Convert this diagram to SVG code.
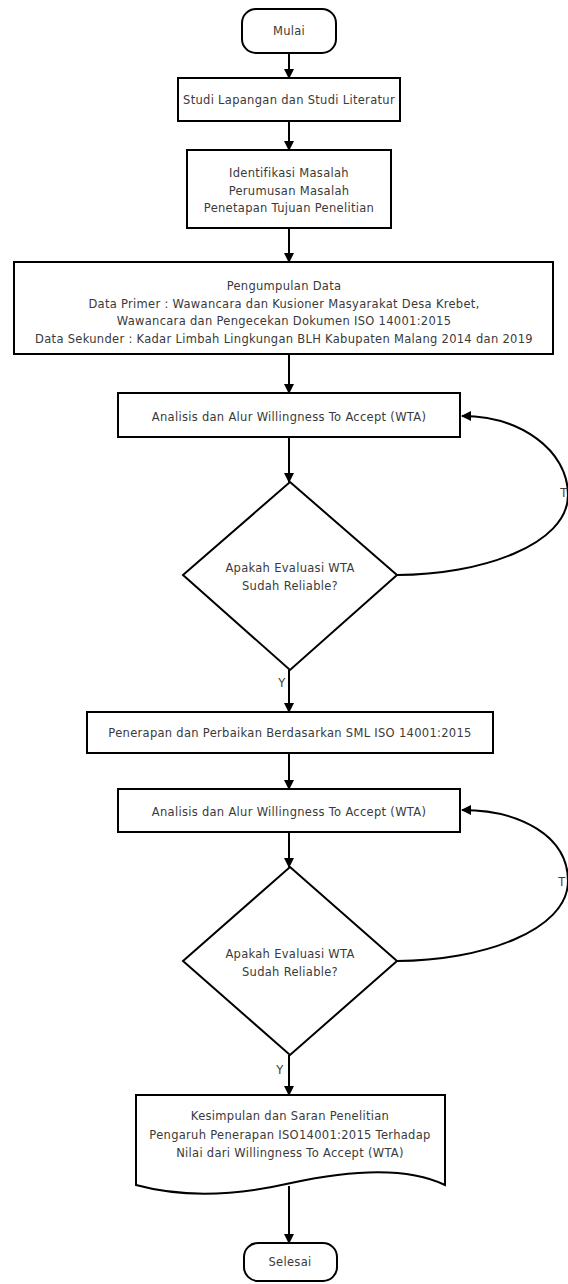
<svg xmlns="http://www.w3.org/2000/svg" width="568" height="1284" viewBox="0 0 568 1284">
<defs>
<marker id="ah" markerWidth="10" markerHeight="10" refX="9" refY="5" orient="auto" markerUnits="userSpaceOnUse">
<path d="M0,0 L10,5 L0,10 Z" fill="#000"/>
</marker>
<style>
.n{fill:#fff;stroke:#000;stroke-width:2}
.t{font-family:"DejaVu Sans",Verdana,sans-serif;font-size:11.5px;letter-spacing:0.3px;fill:#3a3a3a;text-anchor:middle}
.c{fill:none;stroke:#000;stroke-width:2;marker-end:url(#ah)}
</style>
</defs>
<rect width="568" height="1284" fill="#fff"/>
<g id="connectors">
<path class="c" d="M289,53 V78"/>
<path class="c" d="M289,121 V150"/>
<path class="c" d="M289,228 V262"/>
<path class="c" d="M289,354 V393"/>
<path class="c" d="M289,437 V482"/>
<path class="c" d="M397,575 C 480,575 568,545 568,495 C 568,450 520,416 462,416"/>
<path class="c" d="M289,670 V712"/>
<path class="c" d="M289,753 V789"/>
<path class="c" d="M289,832 V867"/>
<path class="c" d="M397,961 C 480,961 568,931 568,881 C 568,836 520,810 462,810"/>
<path class="c" d="M289,1055 V1095"/>
<path class="c" d="M289,1186 V1243"/>
<text class="t" x="564" y="497">T</text>
<text class="t" x="282" y="687">Y</text>
<text class="t" x="562" y="886">T</text>
<text class="t" x="280" y="1074">Y</text>
</g>
<g id="mulai">
<rect class="n" x="242" y="9" width="94" height="44" rx="14"/>
<text class="t" x="289" y="35">Mulai</text>
</g>
<g id="studi">
<rect class="n" x="178" y="78" width="222" height="43"/>
<text class="t" x="289" y="104">Studi Lapangan dan Studi Literatur</text>
</g>
<g id="identifikasi">
<rect class="n" x="187" y="150" width="204" height="78"/>
<text class="t" x="289" y="177">Identifikasi Masalah</text>
<text class="t" x="289" y="195">Perumusan Masalah</text>
<text class="t" x="289" y="212">Penetapan Tujuan Penelitian</text>
</g>
<g id="pengumpulan">
<rect class="n" x="14" y="262" width="539" height="92"/>
<text class="t" x="284" y="290">Pengumpulan Data</text>
<text class="t" x="284" y="308">Data Primer : Wawancara dan Kusioner Masyarakat Desa Krebet,</text>
<text class="t" x="284" y="325">Wawancara dan Pengecekan Dokumen ISO 14001:2015</text>
<text class="t" x="284" y="343">Data Sekunder : Kadar Limbah Lingkungan BLH Kabupaten Malang 2014 dan 2019</text>
</g>
<g id="analisis1">
<rect class="n" x="118" y="393" width="342" height="44"/>
<text class="t" x="289" y="421">Analisis dan Alur Willingness To Accept (WTA)</text>
</g>
<g id="evaluasi1">
<polygon class="n" points="290,482 397,575 290,670 183,575"/>
<text class="t" x="290" y="572">Apakah Evaluasi WTA</text>
<text class="t" x="290" y="590">Sudah Reliable?</text>
</g>
<g id="penerapan">
<rect class="n" x="87" y="712" width="406" height="41"/>
<text class="t" x="290" y="737">Penerapan dan Perbaikan Berdasarkan SML ISO 14001:2015</text>
</g>
<g id="analisis2">
<rect class="n" x="118" y="789" width="342" height="43"/>
<text class="t" x="289" y="816">Analisis dan Alur Willingness To Accept (WTA)</text>
</g>
<g id="evaluasi2">
<polygon class="n" points="290,867 397,961 290,1055 183,961"/>
<text class="t" x="290" y="958">Apakah Evaluasi WTA</text>
<text class="t" x="290" y="976">Sudah Reliable?</text>
</g>
<g id="kesimpulan">
<path class="n" d="M136,1095 H445 V1185 C 410,1168 360,1168 291,1183 C 230,1197 180,1197 136,1185 Z"/>
<text class="t" x="290" y="1120">Kesimpulan dan Saran Penelitian</text>
<text class="t" x="290" y="1139">Pengaruh Penerapan ISO14001:2015 Terhadap</text>
<text class="t" x="290" y="1157">Nilai dari Willingness To Accept (WTA)</text>
</g>
<g id="selesai">
<rect class="n" x="244" y="1243" width="93" height="38" rx="14"/>
<text class="t" x="290" y="1266">Selesai</text>
</g>
</svg>
